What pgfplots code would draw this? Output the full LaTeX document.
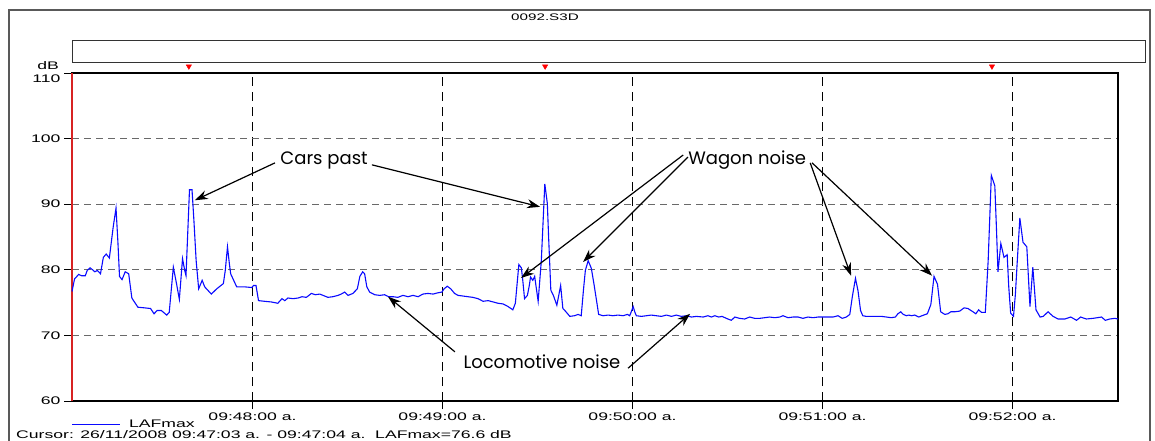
\documentclass[border=0pt]{standalone}
\usepackage{fontspec}
\usepackage{pgfplots}
\usepackage{pgfplotstable}
\pgfplotsset{compat=1.18}
\usetikzlibrary{arrows.meta}
\setmainfont{Liberation Sans}
\newfontfamily\wide[FakeStretch=1.6]{Liberation Sans}
\newfontfamily\hand{Poppins}
\definecolor{lineblue}{RGB}{10,10,255}
\definecolor{gridgray}{RGB}{105,105,105}
\definecolor{cursorred}{RGB}{215,35,35}

\pgfplotstableread{
s db
3 76.7
3.8 78.6
5.1 79.3
6 79.1
7.2 79.1
7.8 79.9
8.7 80.3
9.5 80.0
10.2 79.7
11 79.9
12 79.4
12.9 81.9
13.8 82.4
14.8 81.8
16 86.5
16.9 89.4
17.5 84.2
18 79.0
18.8 78.5
19.8 79.7
20.9 79.4
21.9 75.7
23.8 74.3
25.9 74.2
27.8 74.1
28.9 73.3
29.9 73.8
31.2 73.8
32.9 73.1
33.7 73.5
35 80.4
36 77.9
36.9 75.5
37.9 81.7
38.6 79.9
39 79.1
40.1 92.2
40.9 92.2
41.5 87.5
42.2 81.4
43 77.1
44.1 78.4
44.9 77.4
47 76.3
48.7 77.1
50.8 77.9
51.4 79.9
52.1 83.5
52.7 80.9
53.1 79.4
55 77.4
57.5 77.4
59.8 77.3
60.3 77.6
61.1 77.6
61.9 75.3
63.8 75.2
65.9 75.1
68 74.9
69.3 75.6
70.2 75.3
71.2 75.7
72.8 75.6
74.4 75.7
75.6 75.9
77 75.8
78.6 76.4
79.8 76.2
81.2 76.3
82.3 76.1
83.8 75.8
85.4 75.9
87 76.1
88 76.3
89.1 76.6
90.2 76.1
91.7 76.4
93.1 77.1
93.9 79.0
94.8 79.7
95.4 79.4
96.1 77.4
97 76.6
98.6 76.2
100.2 76.1
101.7 76.2
103 75.9
104.4 75.9
105.9 75.8
107.5 76.1
109.1 75.9
110.7 76.1
112.3 75.9
113.8 76.3
115.4 76.4
117 76.3
118.6 76.5
119.8 76.6
120.5 77.1
121.5 77.5
122.6 77.1
123.8 76.4
124.9 76.1
126.5 76.0
128 75.9
129.6 75.8
131.2 75.6
132.8 75.2
134.4 75.3
136 75.1
137.5 74.9
139.1 74.8
140.7 74.4
142.2 73.9
143 74.9
144.1 80.8
144.9 80.3
145.3 78.6
145.9 75.6
146.8 76.1
147.4 77.6
147.8 78.9
148.5 78.4
149.1 79.0
149.7 76.9
150.2 75.2
151.2 81.4
152.3 93.1
153.1 90.1
153.5 85.0
154.2 76.9
155 76.1
156.1 74.6
157.3 77.6
158 74.1
158.8 73.7
160.2 72.9
161.7 73.0
162.8 73.2
163.8 73.0
164.5 76.9
165.1 79.9
166 81.4
167 80.2
167.8 77.9
168.7 75.1
169.3 73.2
170.7 73.0
172.3 73.1
173.8 73.0
175.4 73.1
177 73.0
178.4 73.2
179.1 73.0
179.6 73.6
180.2 74.4
180.7 73.6
181.2 73.0
182.8 72.9
184.4 73.0
185.9 73.1
187.5 73.0
189.1 72.9
190.7 73.1
192.3 72.9
193.8 73.1
195.4 72.9
197 73.0
198.6 72.8
200.2 72.9
202.3 72.8
203.8 73.0
204.9 72.8
206 73.0
207.2 72.8
208.3 72.9
209.6 72.6
211.2 72.3
212.3 72.8
213.8 72.6
215.4 72.5
217 72.8
218.6 72.6
220.2 72.6
221.7 72.7
223.3 72.8
224.9 72.7
226.5 72.8
227.5 73.0
229.1 72.7
230.7 72.8
232.3 72.8
233.8 72.6
235.4 72.8
237 72.7
238.6 72.8
240.2 72.8
241.7 72.8
243.3 72.8
244.9 73.0
246.2 72.6
247.5 72.8
248.6 73.2
249.4 75.9
250.4 78.7
251.2 76.8
252 73.8
252.7 73.0
253.8 72.9
255.4 72.9
257 72.9
258.6 72.9
260.2 72.8
261.7 72.7
263 72.8
263.8 73.3
264.7 73.6
265.5 73.2
266.5 73.0
267.2 73.1
268.1 73.0
269.1 73.1
270.4 72.8
271.4 73.0
273.1 73.3
274.2 74.7
275.2 79.0
276.3 77.8
277.3 73.6
278.6 73.2
279.6 73.3
280.5 73.6
281.7 73.6
283.3 73.7
284.7 74.2
285.9 74.1
287.5 73.6
288.4 73.3
289.3 73.9
290.2 73.5
291.4 73.5
292.3 81.4
293.3 94.4
294.4 92.8
294.9 86.5
295.4 79.7
296.3 84.0
297.3 81.9
298.3 82.3
298.8 77.4
299.4 73.4
300.3 72.9
300.9 76.3
301.5 81.4
302.3 87.9
303.3 84.2
304.5 83.5
305.5 74.4
306.4 80.4
307.4 73.9
308.7 72.8
309.7 72.9
311.2 73.6
312.8 72.9
314.4 72.5
316.5 72.5
318.4 72.8
320.2 72.3
321.5 72.8
323.3 72.5
325.4 72.6
328.1 72.8
329.3 72.3
330.7 72.5
332.3 72.6
333.3 72.5
}\lafdata

\begin{document}
\begin{tikzpicture}
\path[use as bounding box] (0pt,0pt) rectangle (1155pt,-441pt);
\draw[black!65, line width=1.2pt] (9pt,-445pt) -- (9pt,-10pt) -- (1150pt,-10pt) -- (1150pt,-445pt);
\draw[black!80, line width=1pt] (72pt,-41pt) rectangle (1145pt,-63pt);
\node[font=\wide\fontsize{9.5}{11}\selectfont] at (545pt,-17pt) {0092.S3D};
\node[anchor=east, inner sep=0pt, font=\wide\fontsize{11}{13}\selectfont] at (59pt,-66pt) {dB};
\begin{axis}[
  at={(72pt,-401pt)}, anchor=south west,
  scale only axis, width=1046pt, height=328pt,
  xmin=3, xmax=333.3, ymin=60, ymax=110,
  xtick={60,120,180,240,300},
  xticklabels={09:48:00 a.,09:49:00 a.,09:50:00 a.,09:51:00 a.,09:52:00 a.},
  ytick={60,70,80,90,100,110},
  yticklabels={60,70,80,90,100,\raisebox{-5.5pt}[8pt][0pt]{110}},
  tick label style={font=\wide\fontsize{11}{13}\selectfont},
  xtick pos=bottom, ytick pos=left,
  tick align=outside, major tick length=8pt,
  xmajorgrids, ymajorgrids,
  x grid style={black, line width=0.9pt, dash pattern=on 9pt off 6pt},
  y grid style={gridgray, line width=1.2pt, dash pattern=on 7pt off 5pt},
  axis line style={black, line width=1.2pt},
  tick style={black, line width=1pt},
  clip=false,
]
\addplot[cursorred, line width=2pt] coordinates {(3,60) (3,110)};
\addplot[lineblue, line width=1.1pt] table[x=s, y=db] {\lafdata};
\addplot[only marks, mark=triangle*, mark size=3pt, red, mark options={rotate=180, fill=red, draw=red}] coordinates {(39.9,111) (152.4,111) (293.5,111)};

\node[font=\hand\fontsize{18}{21}\selectfont] at (axis cs:82.6,96.7) {Cars past};
\node[font=\hand\fontsize{18}{21}\selectfont] at (axis cs:216.2,96.7) {Wagon noise};
\node[font=\hand\fontsize{18}{21}\selectfont] at (axis cs:151.4,65.95) {Locomotive noise};
\begin{scope}[line width=1.2pt, -{Stealth[length=13pt,width=9pt]}]
\draw (axis cs:67.1,96.3) -- (axis cs:41.8,90.6);
\draw (axis cs:97.7,96.0) -- (axis cs:150.8,89.6);
\draw (axis cs:196,97.5) -- (axis cs:144.8,78.75);
\draw (axis cs:197.5,97.2) -- (axis cs:164.4,81.2);
\draw (axis cs:236.1,96.3) -- (axis cs:249,79.1);
\draw (axis cs:236.7,96.3) -- (axis cs:274.6,79.1);
\draw (axis cs:123.9,67.5) -- (axis cs:102.8,75.9);
\draw (axis cs:178.6,65.0) -- (axis cs:198.2,73.3);
\end{scope}
\end{axis}
\draw[lineblue, line width=1pt] (72pt,-424pt) -- (120pt,-424pt);
\node[anchor=west, inner sep=0pt, font=\wide\fontsize{11}{13}\selectfont] at (129pt,-424pt) {LAFmax};
\node[anchor=west, inner sep=0pt, font=\wide\fontsize{11}{13}\selectfont] at (16pt,-435pt) {Cursor: 26/11/2008 09:47:03 a. - 09:47:04 a.\ \ LAFmax=76.6 dB};
\end{tikzpicture}
\end{document}
